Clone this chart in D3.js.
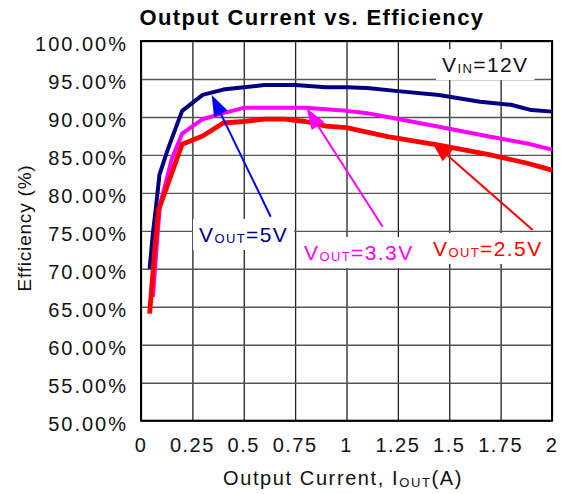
<!DOCTYPE html>
<html>
<head>
<meta charset="utf-8">
<script src="https://cdn.jsdelivr.net/npm/d3@7"></script>
<style>
body { margin: 0; background: #fff; }
text { font-family: "Liberation Sans", Arial, sans-serif; }
</style>
</head>
<body>
<svg id="chart" width="565" height="494"></svg>
<script>
// values
var xTicks = [0, 0.25, 0.5, 0.75, 1, 1.25, 1.5, 1.75, 2];
var xTickLabels = ["0", "0.25", "0.5", "0.75", "1", "1.25", "1.5", "1.75", "2"];
var yTicks = [50, 55, 60, 65, 70, 75, 80, 85, 90, 95, 100];
var yTickLabels = ["50.00%", "55.00%", "60.00%", "65.00%", "70.00%", "75.00%",
                   "80.00%", "85.00%", "90.00%", "95.00%", "100.00%"];

var current5 = [0.042, 0.058, 0.074, 0.09, 0.13, 0.2, 0.3, 0.4, 0.5, 0.6, 0.75, 0.9, 1.0, 1.1, 1.25, 1.45, 1.65, 1.8, 1.9, 2.0];
var eff5     = [70.0, 74.7, 78.4, 82.4, 85.7, 90.8, 92.9, 93.6, 93.9, 94.2, 94.2, 93.9, 93.9, 93.8, 93.4, 92.9, 92.0, 91.6, 90.9, 90.7];

var current33 = [0.058, 0.075, 0.091, 0.15, 0.2, 0.3, 0.4, 0.5, 0.8, 1.0, 1.1, 1.2, 1.45, 1.7, 1.88, 2.0];
var eff33     = [66.3, 72.5, 78.2, 84.5, 87.8, 89.7, 90.5, 91.2, 91.2, 90.8, 90.5, 90.0, 88.7, 87.4, 86.5, 85.7];

var current25 = [0.042, 0.067, 0.086, 0.2, 0.3, 0.4, 0.5, 0.6, 0.7, 0.8, 0.9, 1.0, 1.2, 1.45, 1.7, 1.88, 2.0];
var eff25     = [64.1, 72.5, 77.8, 86.4, 87.5, 89.2, 89.4, 89.7, 89.7, 89.4, 88.8, 88.6, 87.4, 86.3, 85.0, 83.9, 83.0];

var svg = d3.select("#chart");

var plotL = 141, plotR = 552, plotT = 41, plotB = 420.7;

var x = d3.scaleLinear().domain([0, 2]).range([plotL, plotR]);
var y = d3.scaleLinear().domain([50, 100]).range([plotB, plotT]);

// grid
svg.append("g")
    .attr("transform", "translate(0," + plotB + ")")
    .call(d3.axisBottom(x).tickValues(xTicks).tickSize(-(plotB - plotT)).tickFormat(""))
    .call(g => g.select(".domain").remove())
    .selectAll("line").attr("stroke", "#222").attr("stroke-width", 1.3);

svg.append("g")
    .attr("transform", "translate(" + plotL + ",0)")
    .call(d3.axisLeft(y).tickValues(yTicks).tickSize(-(plotR - plotL)).tickFormat(""))
    .call(g => g.select(".domain").remove())
    .selectAll("line").attr("stroke", "#555").attr("stroke-width", 1.4);

// frame
svg.append("rect")
    .attr("x", plotL).attr("y", plotT)
    .attr("width", plotR - plotL).attr("height", plotB - plotT)
    .attr("fill", "none").attr("stroke", "#000").attr("stroke-width", 2);

// tick labels
svg.append("g").selectAll("text")
    .data(xTicks)
    .enter().append("text")
    .attr("x", d => x(d))
    .attr("y", 452)
    .attr("text-anchor", "middle")
    .attr("font-size", 20)
    .attr("letter-spacing", 1.5)
    .attr("fill", "#111")
    .text((d, i) => xTickLabels[i]);

svg.append("g").selectAll("text")
    .data(yTicks)
    .enter().append("text")
    .attr("x", 128)
    .attr("y", d => y(d) + 10)
    .attr("text-anchor", "end")
    .attr("font-size", 20)
    .attr("letter-spacing", 2)
    .attr("fill", "#111")
    .text((d, i) => yTickLabels[i]);

// titles
svg.append("text")
    .attr("x", 312).attr("y", 25)
    .attr("text-anchor", "middle")
    .attr("font-size", 22).attr("font-weight", "bold")
    .attr("letter-spacing", 1.4)
    .text("Output Current vs. Efficiency");

var xTitle = svg.append("text")
    .attr("x", 343).attr("y", 485)
    .attr("text-anchor", "middle")
    .attr("font-size", 20).attr("letter-spacing", 1.6)
    .attr("fill", "#111");
xTitle.append("tspan").text("Output Current, I");
xTitle.append("tspan").attr("font-size", 13).attr("dy", 2).text("OUT");
xTitle.append("tspan").attr("dy", -2).text("(A)");

svg.append("text")
    .attr("transform", "translate(31,228) rotate(-90)")
    .attr("text-anchor", "middle")
    .attr("font-size", 19).attr("letter-spacing", 0.8)
    .attr("fill", "#111")
    .text("Efficiency (%)");

// labels with white boxes
function label(px, py, main, sub, rest, color) {
    var g = svg.append("g");
    var t = g.append("text")
        .attr("x", px).attr("y", py)
        .attr("font-size", 21).attr("letter-spacing", 1.4)
        .attr("fill", color);
    t.append("tspan").text(main);
    t.append("tspan").attr("font-size", 13).attr("dy", 1).text(sub);
    t.append("tspan").attr("dy", -1).text(rest);
    var b = t.node().getBBox();
    g.insert("rect", "text")
        .attr("x", b.x - 6).attr("y", b.y - 4)
        .attr("width", b.width + 12).attr("height", b.height + 8)
        .attr("fill", "#fff");
}

label(442, 72, "V", "IN", "=12V", "#111");
label(199, 242, "V", "OUT", "=5V", "#000080");
label(304, 260, "V", "OUT", "=3.3V", "#ff00ff");
label(433, 256, "V", "OUT", "=2.5V", "#ff0000");

// curves
var line = d3.line().x(d => x(d[0])).y(d => y(d[1]));

var series = [
    { xs: current5, ys: eff5, color: "#000080", width: 4 },
    { xs: current33, ys: eff33, color: "#ff00ff", width: 4 },
    { xs: current25, ys: eff25, color: "#ff0000", width: 4.8 }
];

series.forEach(function (s) {
    svg.append("path")
        .datum(s.xs.map((v, i) => [v, s.ys[i]]))
        .attr("fill", "none")
        .attr("stroke", s.color)
        .attr("stroke-width", s.width)
        .attr("stroke-linejoin", "round")
        .attr("d", line);
});

// arrows: tail -> tip, in data units
var arrows = [
    { from: [0.631, 76.86], to: [0.344, 92.89], color: "#0000ff" },
    { from: [1.176, 75.55], to: [0.806, 91.14], color: "#ff00ff" },
    { from: [1.906, 75.11], to: [1.415, 86.74], color: "#ff0000" }
];

arrows.forEach(function (a) {
    var x0 = x(a.from[0]), y0 = y(a.from[1]);
    var x1 = x(a.to[0]), y1 = y(a.to[1]);
    var ang = Math.atan2(y1 - y0, x1 - x0);
    var len = 21, half = 7.5;
    var bx = x1 - len * Math.cos(ang), by = y1 - len * Math.sin(ang);
    svg.append("line")
        .attr("x1", x0).attr("y1", y0)
        .attr("x2", bx).attr("y2", by)
        .attr("stroke", a.color).attr("stroke-width", 2);
    svg.append("path")
        .attr("d", "M" + x1 + "," + y1 +
            "L" + (bx + half * Math.sin(ang)) + "," + (by - half * Math.cos(ang)) +
            "L" + (bx - half * Math.sin(ang)) + "," + (by + half * Math.cos(ang)) + "Z")
        .attr("fill", a.color);
});
</script>
</body>
</html>
